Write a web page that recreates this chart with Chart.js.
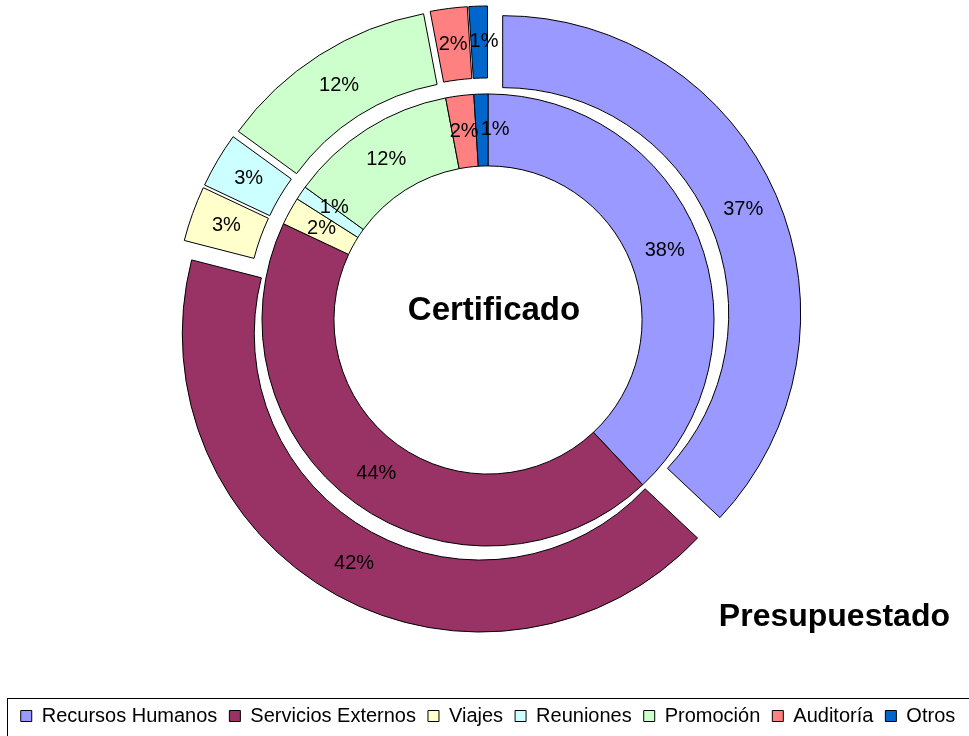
<!DOCTYPE html>
<html>
<head>
<meta charset="utf-8">
<script src="https://cdn.jsdelivr.net/npm/chart.js@4.4.1/dist/chart.umd.min.js"></script>
<style>
  html, body { margin: 0; padding: 0; background: #fff; overflow: hidden; }
  #wrap { width: 969px; height: 736px; overflow: hidden; }
  /* canvas is taller than the page so the doughnut sits higher above the legend */
  #chart { display: block; margin-top: -54px; }
</style>
</head>
<body>
<div id="wrap"><canvas id="chart" width="969" height="790"></canvas></div>
<script>
const categories = ["Recursos Humanos", "Servicios Externos", "Viajes", "Reuniones", "Promoción", "Auditoría", "Otros"];
const presupuestado = [37, 42, 3, 3, 12, 2, 1];
const certificado = [38, 44, 2, 1, 12, 2, 1];
const colors = ["#9999FF", "#993366", "#FFFFCC", "#CCFFFF", "#CCFFCC", "#FF8080", "#0066CC"];

const EXPLODE = 16;
const FONT = '"Liberation Sans", Arial, sans-serif';

Chart.defaults.font.family = FONT;
Chart.defaults.color = '#000';

// outer ring slices pulled out (Chart.js offset also grows small arcs, so do it by hand)
const explodeOuter = {
  id: 'explodeOuter',
  beforeDatasetDraw(chart, args) {
    if (args.index !== 0) return;
    const ctx = chart.ctx;
    args.meta.data.forEach(arc => {
      const mid = (arc.startAngle + arc.endAngle) / 2;
      ctx.save();
      ctx.translate(Math.cos(mid) * EXPLODE, Math.sin(mid) * EXPLODE);
      arc.draw(ctx);
      ctx.restore();
    });
    return false;
  }
};

// percentage labels in the middle of each slice, nudged apart when they collide
const pctLabels = {
  id: 'pctLabels',
  afterDatasetsDraw(chart) {
    const ctx = chart.ctx;
    ctx.save();
    ctx.font = '20px ' + FONT;
    ctx.fillStyle = '#000';
    ctx.textAlign = 'center';
    ctx.textBaseline = 'middle';
    chart.data.datasets.forEach((ds, di) => {
      const meta = chart.getDatasetMeta(di);
      const total = ds.data.reduce((a, b) => a + b, 0);
      const shift = di === 0 ? EXPLODE : 0;
      let prev = null;
      meta.data.forEach((arc, i) => {
        const mid = (arc.startAngle + arc.endAngle) / 2;
        const r = (arc.innerRadius + arc.outerRadius) / 2 + shift;
        let x = arc.x + Math.cos(mid) * r;
        let y = arc.y + Math.sin(mid) * r;
        const text = Math.round(ds.data[i] / total * 100) + '%';
        const w = ctx.measureText(text).width + 2, h = 21;
        if (prev) {
          const dx = x - prev.x, dy = y - prev.y;
          const kx = dx !== 0 ? (w + prev.w) / 2 / Math.abs(dx) : Infinity;
          const ky = dy !== 0 ? (h + prev.h) / 2 / Math.abs(dy) : Infinity;
          const k = Math.min(kx, ky);
          if (k > 1) { x = prev.x + dx * k; y = prev.y + dy * k; }
        }
        ctx.fillText(text, x, y);
        prev = { x, y, w, h };
      });
    });
    ctx.restore();
  }
};

// ring names and the frame around the legend
const ringTitles = {
  id: 'ringTitles',
  afterDraw(chart) {
    const ctx = chart.ctx;
    const c = chart.getDatasetMeta(1).data[0];
    ctx.save();
    ctx.fillStyle = '#000';
    ctx.textBaseline = 'middle';
    ctx.font = 'bold 33px ' + FONT;
    ctx.textAlign = 'center';
    ctx.fillText('Certificado', c.x + 6, c.y - 9);
    ctx.font = 'bold 32px ' + FONT;
    ctx.textAlign = 'right';
    ctx.fillText('Presupuestado', c.x + 462, c.y + 297);

    const lg = chart.legend;
    ctx.strokeStyle = '#000';
    ctx.lineWidth = 1;
    ctx.strokeRect(lg.left + 0.5, lg.top + 4.5, lg.width + 20, lg.height + 20);
    ctx.restore();
  }
};

new Chart(document.getElementById('chart'), {
  type: 'doughnut',
  data: {
    labels: categories,
    datasets: [
      { label: 'Presupuestado', data: presupuestado, backgroundColor: colors, borderColor: '#000', borderWidth: 1 },
      { label: 'Certificado', data: certificado, backgroundColor: colors, borderColor: '#000', borderWidth: 1 }
    ]
  },
  options: {
    responsive: false,
    animation: false,
    events: [],
    radius: 298,
    cutout: '51.7%',
    layout: { padding: { top: 0, bottom: 0, left: 7, right: 0 } },
    plugins: {
      legend: {
        position: 'bottom',
        labels: { boxWidth: 11, boxHeight: 11, padding: 12, color: '#000', font: { size: 20 } }
      },
      tooltip: { enabled: false }
    }
  },
  plugins: [explodeOuter, pctLabels, ringTitles]
});
</script>
</body>
</html>
